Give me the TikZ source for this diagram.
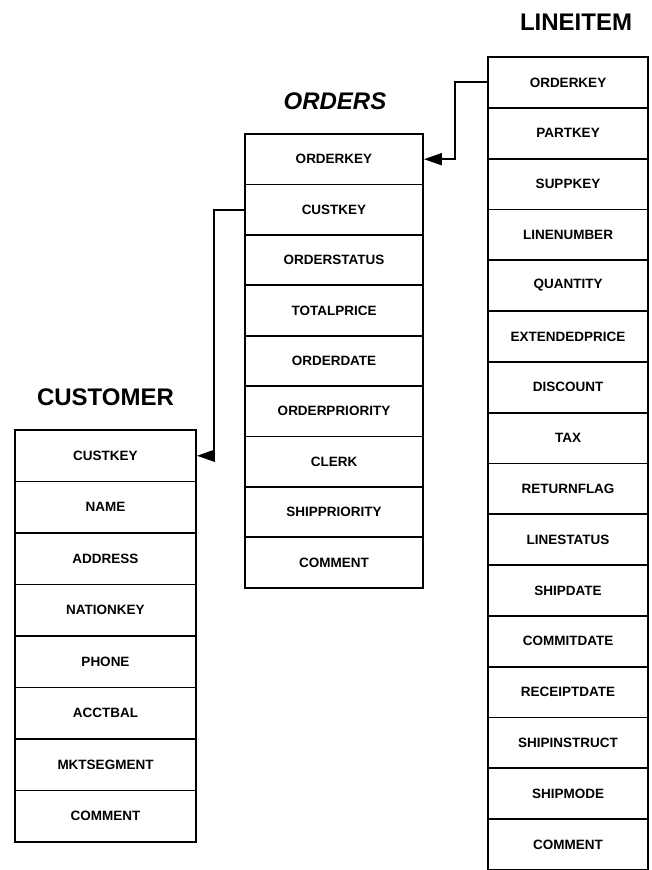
\documentclass[tikz,border=0pt]{standalone}
\usepackage{fontspec}
\setmainfont{Liberation Sans}
\usetikzlibrary{arrows.meta}
\begin{document}
\begin{tikzpicture}[x=1pt,y=-1pt,
  rowbox/.style={draw=black, line width=1.8pt, inner sep=0pt, anchor=center,
    font=\fontsize{13.5}{14}\selectfont\bfseries},
  titletext/.style={font=\fontsize{24}{26}\selectfont\bfseries, inner sep=0pt},
  fk/.style={draw=black, line width=2pt, -{Triangle[length=18pt,width=12pt]}}]
\useasboundingbox (0,0) rectangle (652,870);

% titles
\node[titletext] (tcust) at (105.5,397) {CUSTOMER};
\node[titletext, font=\fontsize{24}{26}\selectfont\bfseries\itshape] (tord) at (335,101) {ORDERS};
\node[titletext] (tline) at (576,22) {LINEITEM};

% CUSTOMER
\foreach \t [count=\i] in {CUSTKEY,NAME,ADDRESS,NATIONKEY,PHONE,ACCTBAL,MKTSEGMENT,COMMENT}
  \node[rowbox, minimum width=181pt, minimum height=51.5pt] (c\i) at (105.5,{430+51.5*\i-25.75}) {\t};

% ORDERS
\foreach \t [count=\i] in {ORDERKEY,CUSTKEY,ORDERSTATUS,TOTALPRICE,ORDERDATE,ORDERPRIORITY,CLERK,SHIPPRIORITY,COMMENT}
  \node[rowbox, minimum width=178pt, minimum height=50.4pt] (o\i) at (334,{134+50.4*\i-25.2}) {\t};

% LINEITEM
\foreach \t [count=\i] in {ORDERKEY,PARTKEY,SUPPKEY,LINENUMBER,QUANTITY,EXTENDEDPRICE,DISCOUNT,TAX,RETURNFLAG,LINESTATUS,SHIPDATE,COMMITDATE,RECEIPTDATE,SHIPINSTRUCT,SHIPMODE,COMMENT}
  \node[rowbox, minimum width=160pt, minimum height=50.8pt] (l\i) at (568,{57+50.8*\i-25.4}) {\t};

% connectors
\coordinate (jA) at (455,0);
\coordinate (jB) at (214,0);
\draw[fk] (l1.west) -- (l1.west -| jA) |- (o1.east);
\draw[fk] (o2.west) -- (o2.west -| jB) |- (c1.east);
\end{tikzpicture}
\end{document}
